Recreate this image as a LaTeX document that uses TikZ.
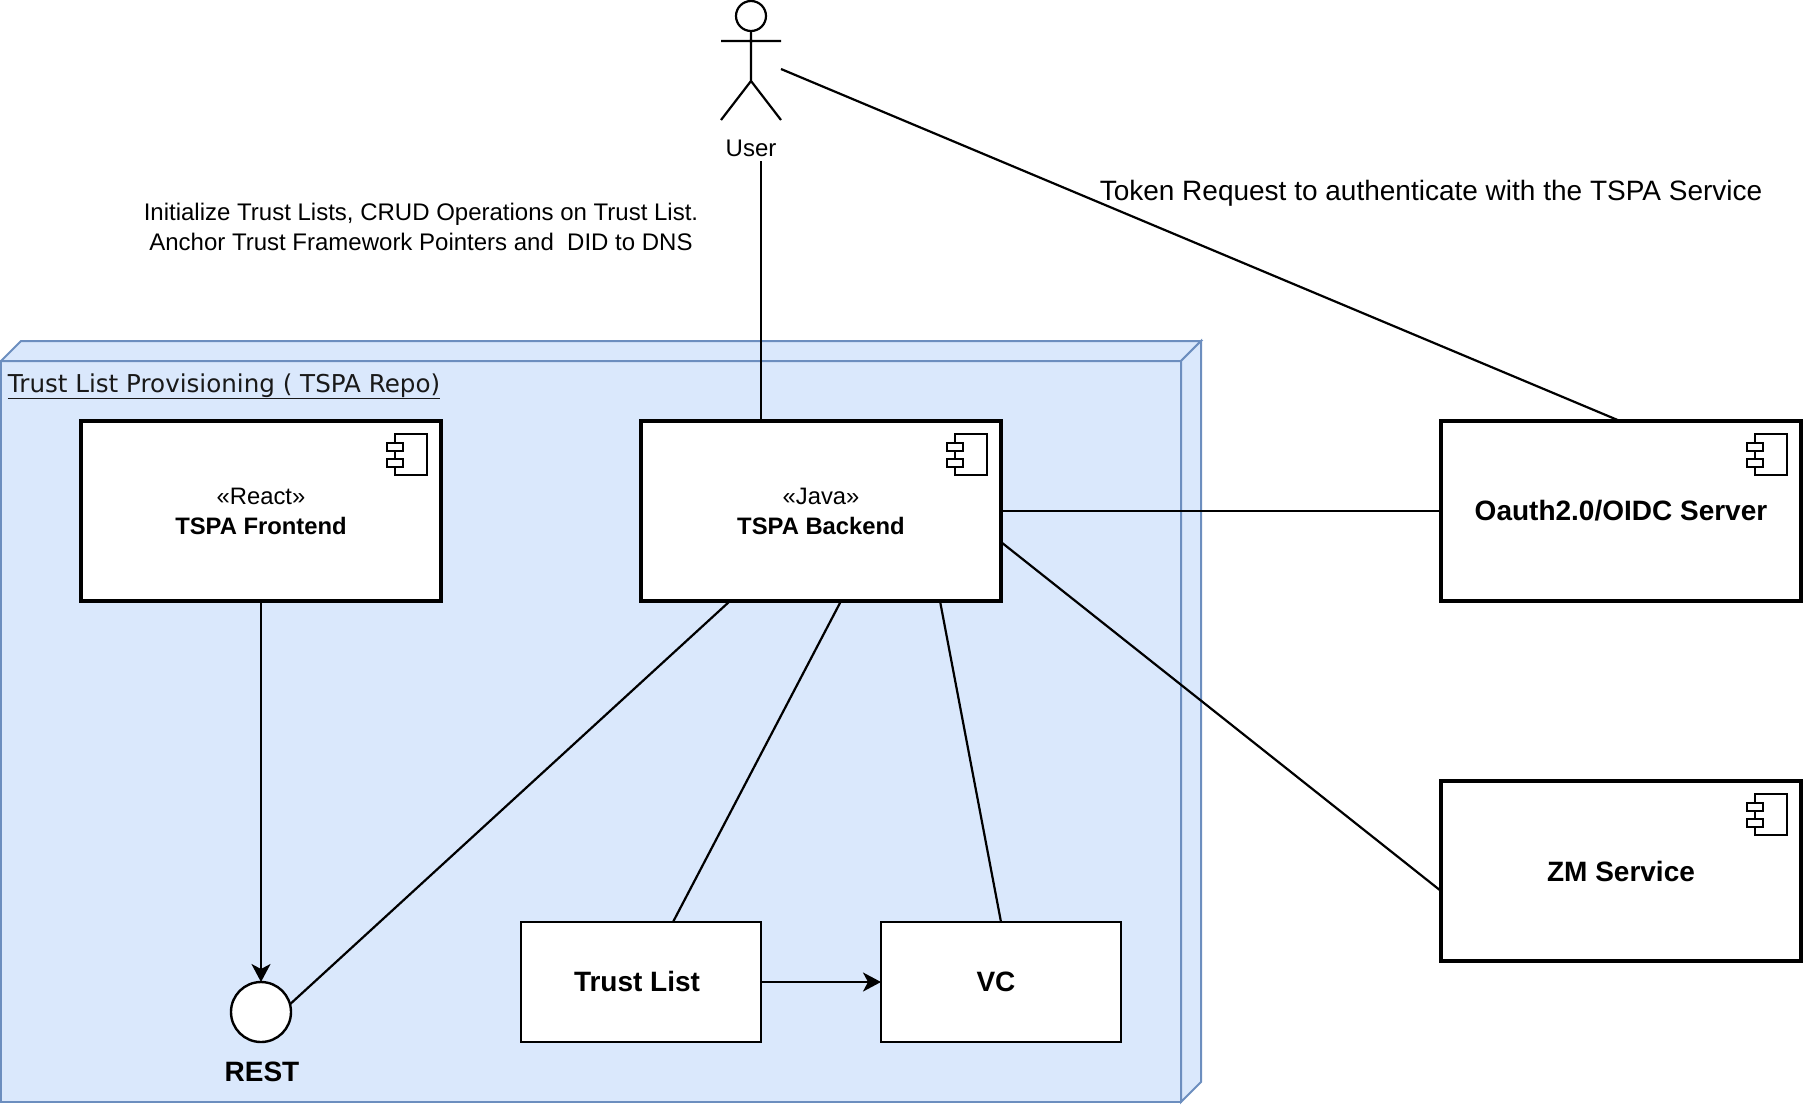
\documentclass[tikz,border=0pt]{standalone}
\usepackage{fontspec}
\setmainfont{Liberation Sans}
\newfontfamily\titlefont{DejaVu Sans}
\usetikzlibrary{arrows.meta,calc}
\definecolor{cubefill}{HTML}{DAE8FC}
\definecolor{cubeline}{HTML}{6C8EBF}
\tikzset{
  px/.style={x=1pt,y=-1pt},
  comp/.style={draw=black,line width=3.8pt,fill=white,minimum width=360pt,minimum height=180pt,inner sep=0pt,outer sep=0pt,align=center,font=\fontsize{23.8}{30}\selectfont},
  plainbox/.style={draw=black,line width=2pt,fill=white,minimum width=240pt,minimum height=120pt,inner sep=0pt,outer sep=0pt},
  boldlbl/.style={inner sep=0pt,outer sep=0pt,font=\fontsize{28}{32}\selectfont\bfseries},
  iface/.style={circle,draw=black,line width=2.4pt,fill=white,minimum size=60pt,inner sep=0pt,outer sep=0pt},
  conn/.style={draw=black,line width=2.2pt},
  arr/.style={conn,-{Stealth[length=18pt,width=19pt,inset=5pt]}},
  cube/.style={draw=cubeline,fill=cubefill,line width=2pt,line join=miter},
  lbl/.style={inner sep=0pt,outer sep=0pt,align=center},
  actorline/.style={draw=black,line width=2.2pt},
  pics/compicon/.style={code={
    \draw[black,line width=2.2pt,fill=white] (-46,13) rectangle (-14,54);
    \draw[black,line width=2.2pt,fill=white] (-54,22) rectangle (-38,30);
    \draw[black,line width=2.2pt,fill=white] (-54,38) rectangle (-38,46);
  }}
}
\begin{document}
\begin{tikzpicture}[px]
\useasboundingbox (0,0) rectangle (1804,1104);
% cube
\node[cube,minimum width=1180pt,minimum height=741pt,inner sep=0pt,outer sep=0pt,anchor=north west] (cubef) at (1,361) {};
\draw[cube] (cubef.north west) -- ++(20,-20) -- ++(1180,0) -- ++(-20,20) -- cycle;
\draw[cube] (cubef.north east) -- ++(20,-20) -- ++(0,741) -- ++(-20,20) -- cycle;
\node[lbl,anchor=base west,font=\titlefont\fontsize{24.6}{28}\selectfont,text=black!90] (title) at (8,392) {\underline{Trust List Provisioning ( TSPA Repo)}};
% actor
\draw[actorline] (751,16) circle[radius=15];
\draw[actorline] (751,31) -- (751,81) (721,41) -- (781,41) (721,120) -- (751,81) -- (781,120);
\coordinate (userright) at (781,69);
\coordinate (userbottom) at (761,161);
\node[lbl,font=\fontsize{24}{26}\selectfont] (user) at (751,148) {User};
% text labels
\node[lbl,font=\fontsize{24}{30}\selectfont] (initlabel) at (421,227) {Initialize Trust Lists, CRUD Operations on Trust List.\\Anchor Trust Framework Pointers and\ \ DID to DNS};
\node[lbl,font=\fontsize{28}{32}\selectfont] (tokenlabel) at (1431,193) {Token Request to authenticate with the TSPA Service};
% boxes
\node[comp] (front) at (261,511) {\rule{0pt}{1pt}«React»\\\textbf{TSPA Frontend}};
\node[comp] (back) at (821,511) {\rule{0pt}{1pt}«Java»\\\textbf{TSPA Backend}};
\node[comp] (oauth) at (1621,511) {};
\node[boldlbl] (oauthtext) at (oauth.center) {Oauth2.0/OIDC Server};
\node[comp] (zm) at (1621,871) {};
\node[boldlbl] (zmtext) at (zm.center) {ZM Service};
\node[plainbox] (tl) at (641,982) {};
\node[boldlbl] (tltext) at (637,981) {Trust List};
\node[plainbox] (vc) at (1001,982) {};
\node[boldlbl] (vctext) at (996,982) {VC};
\node[iface] (rest) at (261,1012) {};
\node[boldlbl] (resttext) at (262,1072) {REST};
\pic at (front.north east) {compicon};
\pic at (back.north east) {compicon};
\pic at (oauth.north east) {compicon};
\pic at (zm.north east) {compicon};
% connectors
\draw[conn] (userright) -- ($(oauth.north west)+(179,0)$);
\draw[conn] (userbottom) -- ($(back.north west)+(120,0)$);
\draw[arr] (front.south) -- (rest.north);
\draw[conn] ($(back.south west)+(89,0)$) -- (rest.15);
\draw[conn] ($(back.south west)+(200,0)$) -- ($(tl.north west)+(152,0)$);
\draw[conn] ($(back.south west)+(299,0)$) -- (vc.north);
\draw[conn] (back.east) -- (oauth.west);
\draw[conn] ($(back.north east)+(0,121)$) -- ($(zm.north west)+(0,110)$);
\draw[arr] (tl.east) -- (vc.west);
\end{tikzpicture}
\end{document}
